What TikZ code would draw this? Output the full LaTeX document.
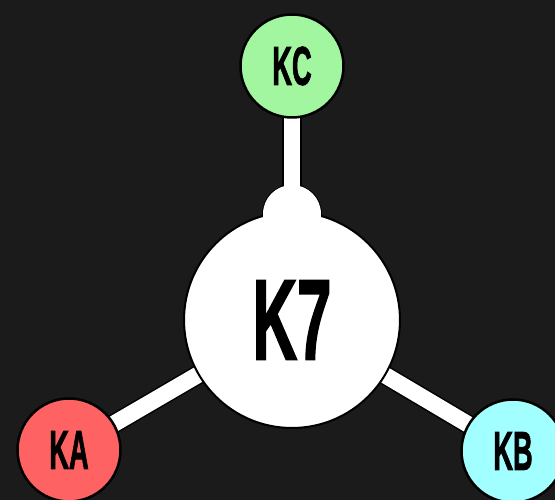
\documentclass[tikz,border=0pt]{standalone}
\usepackage{fontspec}
\setmainfont{Liberation Sans}
\newfontfamily\heavy[FakeBold=2]{Liberation Sans Bold}
\usepackage{graphicx}
\usetikzlibrary{positioning}
\pgfdeclarelayer{back}
\pgfdeclarelayer{links}
\pgfsetlayers{back,links,main}

\definecolor{canvas}{HTML}{1B1B1B}
\definecolor{kcgreen}{HTML}{A2F6A0}
\definecolor{kared}{HTML}{FF6262}
\definecolor{kbcyan}{HTML}{A2FFFF}

\newcommand{\slim}[2][0.5]{\scalebox{#1}[1]{#2}}

\tikzstyle{hubnode} = [circle, minimum size=4.32cm, inner sep=0pt, fill=white, draw=black, line width=0.04cm, font=\fontsize{65}{65}\heavy]
\tikzstyle{portnode} = [circle, minimum size=1.16cm, inner sep=0pt, fill=white]
\tikzstyle{leaf} = [circle, minimum size=2.06cm, inner sep=0pt, draw=black, line width=0.05cm, font=\fontsize{31}{31}\heavy]
\tikzstyle{link} = [draw=black, line width=0.03cm, double=white, double distance=0.33cm]
\tikzstyle{ring} = [draw=black, line width=0.04cm, fill=white]

\begin{document}
\begin{tikzpicture}[x=0.02cm, y=-0.02cm]
  \useasboundingbox (0,0) rectangle (555,500);
  \begin{pgfonlayer}{back}
    \fill [canvas] (0,0) rectangle (555,500);
  \end{pgfonlayer}

  \node (hub) [hubnode] at (292,320) {\slim[0.54]{K7}};
  \node (port) [portnode] at (292,214) {};

  \node (kc) [leaf, fill=kcgreen] at (292,66) {\slim{KC}};
  \node (ka) [leaf, fill=kared] at (69,450) {\slim{KA}};
  \node (kb) [leaf, fill=kbcyan] at (513,451) {\slim{KB}};

  \begin{pgfonlayer}{links}
    \path [link] (hub.center) -- (ka.center);
    \path [link] (hub.center) -- (kb.center);
    \path [ring] (port.center) circle [radius=29];
    \path [link] (port.center) -- (kc.center);
  \end{pgfonlayer}
\end{tikzpicture}
\end{document}
